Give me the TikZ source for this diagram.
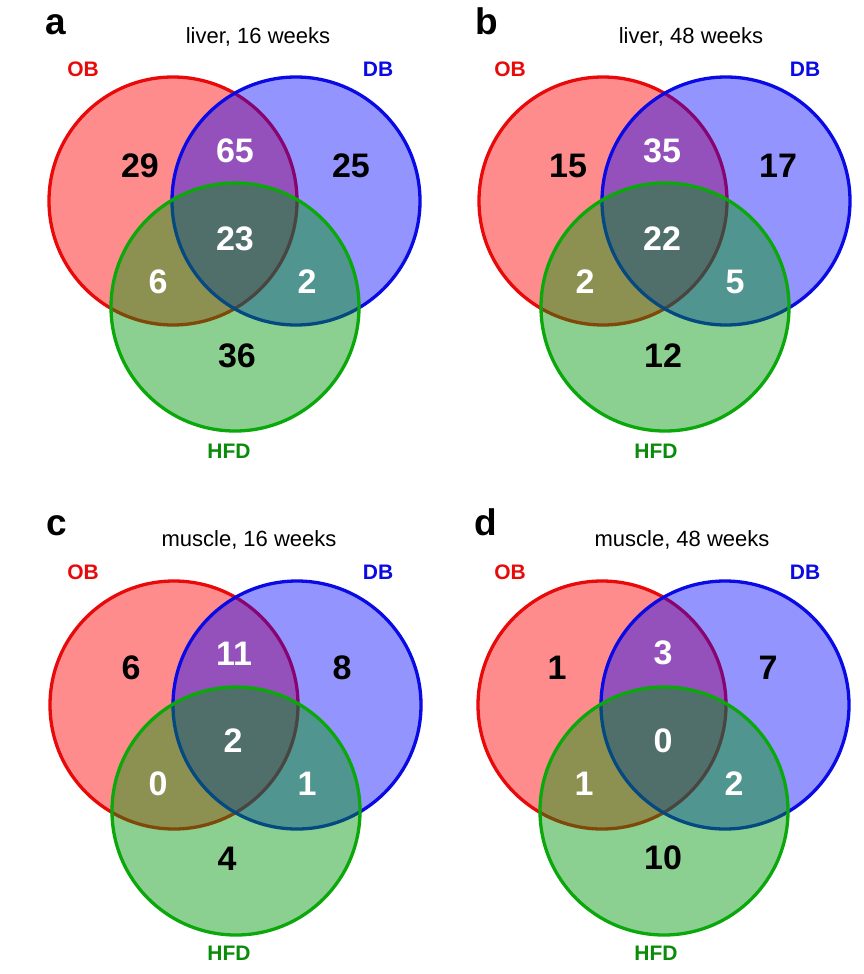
\documentclass[tikz,border=0pt]{standalone}
\usepackage{fontspec}
\setmainfont{Liberation Sans}
\usepackage{tikz}

\definecolor{obline}{RGB}{232,10,10}
\definecolor{dbline}{RGB}{10,10,228}
\definecolor{hfdline}{RGB}{10,168,10}
\definecolor{hfdfill}{RGB}{0,150,10}
\definecolor{hfdtext}{RGB}{10,140,10}

\begin{document}
\begin{tikzpicture}[x=1pt, y=-1pt,
    set/.style={circle, minimum size=248pt, inner sep=0pt, line width=3.3pt},
    obset/.style={set, draw=obline, fill=red, fill opacity=0.45},
    dbset/.style={set, draw=dbline, fill=blue, fill opacity=0.42},
    hfdset/.style={set, draw=hfdline, fill=hfdfill, fill opacity=0.45},
    num/.style={anchor=base, inner sep=0pt, font=\fontsize{34}{34}\selectfont\bfseries},
    numw/.style={num, text=white},
    lbl/.style={anchor=base, inner sep=0pt, font=\fontsize{21}{21}\selectfont\bfseries},
    ttl/.style={anchor=base, inner sep=0pt, font=\fontsize{22}{22}\selectfont},
    panel/.style={anchor=base west, inner sep=0pt, font=\fontsize{37}{37}\selectfont\bfseries}]
    \useasboundingbox (0,0) rectangle (864,974);

    % a: liver, 16 weeks
    \node[panel] (alet) at (45,35) {a};
    \node[ttl] (attl) at (258,44) {liver, 16 weeks};
    \node[obset] (aob) at (173,201) {};
    \node[dbset] (adb) at (296,201) {};
    \node[hfdset] (ahfd) at (235,307) {};
    \node[lbl, text=obline] (aobl) at (83,77) {OB};
    \node[lbl, text=dbline] (adbl) at (378,77) {DB};
    \node[lbl, text=hfdtext] (ahfdl) at (229,458) {HFD};
    \node[num] (a1) at (140,177) {29};
    \node[numw] (a2) at (235,162) {65};
    \node[num] (a3) at (351,177) {25};
    \node[numw] (a4) at (235,250) {23};
    \node[numw] (a5) at (158,293) {6};
    \node[numw] (a6) at (307,293) {2};
    \node[num] (a7) at (237,367) {36};

    % b: liver, 48 weeks
    \begin{scope}[shift={(430,0)}]
        \node[panel] (blet) at (45,35) {b};
        \node[ttl] (bttl) at (261,44) {liver, 48 weeks};
        \node[obset] (bob) at (173,201) {};
        \node[dbset] (bdb) at (296,201) {};
        \node[hfdset] (bhfd) at (235,307) {};
        \node[lbl, text=obline] (bobl) at (80,77) {OB};
        \node[lbl, text=dbline] (bdbl) at (375,77) {DB};
        \node[lbl, text=hfdtext] (bhfdl) at (226,458) {HFD};
        \node[num] (b1) at (138,177) {15};
        \node[numw] (b2) at (232,162) {35};
        \node[num] (b3) at (348,177) {17};
        \node[numw] (b4) at (232,250) {22};
        \node[numw] (b5) at (155,293) {2};
        \node[numw] (b6) at (305,293) {5};
        \node[num] (b7) at (233,367) {12};
    \end{scope}

    % c: muscle, 16 weeks
    \begin{scope}[shift={(0,503)}]
        \node[panel] (clet) at (46,32) {c};
        \node[ttl] (cttl) at (249,43) {muscle, 16 weeks};
        \node[obset] (cob) at (174,202) {};
        \node[dbset] (cdb) at (297,202) {};
        \node[hfdset] (chfd) at (236,308) {};
        \node[lbl, text=obline] (cobl) at (83,76) {OB};
        \node[lbl, text=dbline] (cdbl) at (378,76) {DB};
        \node[lbl, text=hfdtext] (chfdl) at (229,457) {HFD};
        \node[num] (c1) at (131,176) {6};
        \node[numw] (c2) at (234,162) {11};
        \node[num] (c3) at (342,176) {8};
        \node[numw] (c4) at (233,249) {2};
        \node[numw] (c5) at (158,292) {0};
        \node[numw] (c6) at (307,292) {1};
        \node[num] (c7) at (227,367) {4};
    \end{scope}

    % d: muscle, 48 weeks
    \begin{scope}[shift={(430,503)}]
        \node[panel] (dlet) at (44,32) {d};
        \node[ttl] (dttl) at (252,43) {muscle, 48 weeks};
        \node[obset] (dob) at (172,202) {};
        \node[dbset] (ddb) at (295,202) {};
        \node[hfdset] (dhfd) at (234,308) {};
        \node[lbl, text=obline] (dobl) at (80,76) {OB};
        \node[lbl, text=dbline] (ddbl) at (375,76) {DB};
        \node[lbl, text=hfdtext] (dhfdl) at (226,457) {HFD};
        \node[num] (d1) at (127,176) {1};
        \node[numw] (d2) at (233,161) {3};
        \node[num] (d3) at (338,176) {7};
        \node[numw] (d4) at (233,249) {0};
        \node[numw] (d5) at (154,292) {1};
        \node[numw] (d6) at (304,292) {2};
        \node[num] (d7) at (233,366) {10};
    \end{scope}
\end{tikzpicture}
\end{document}
